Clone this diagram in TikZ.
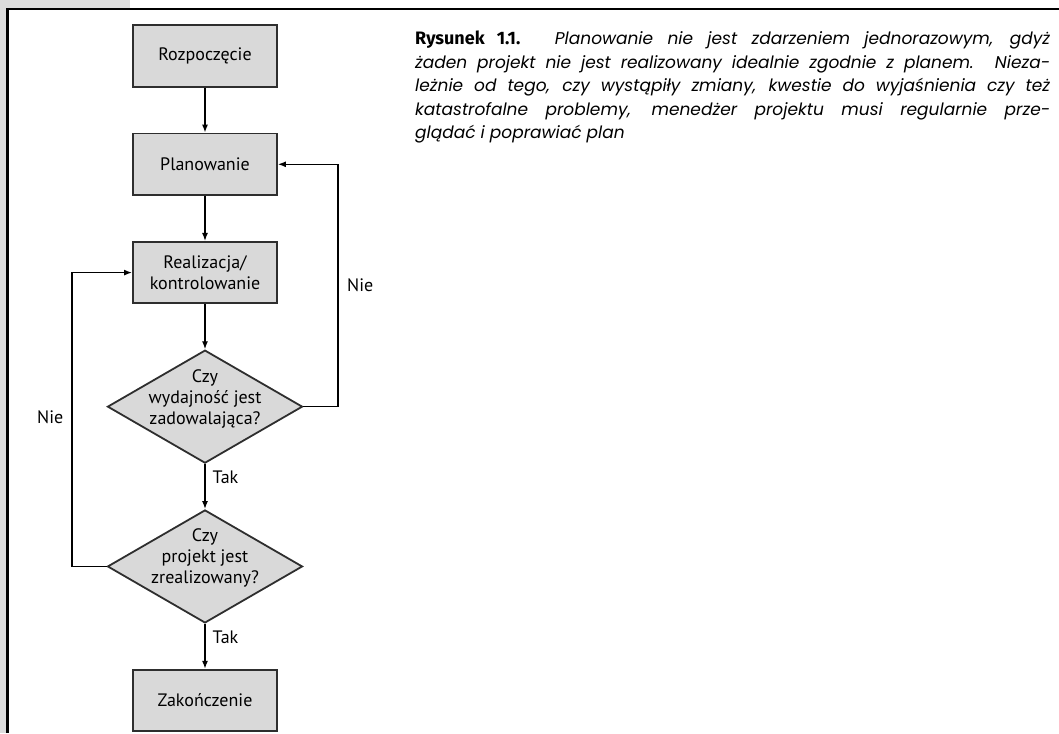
\documentclass[tikz,border=0pt]{standalone}
\usepackage{fontspec}
\setmainfont{PT Sans}
\newfontfamily\capfont{Poppins}
\newfontfamily\capboldfont{Fira Sans}
\usetikzlibrary{arrows.meta, shapes.geometric, positioning}
\definecolor{boxgray}{HTML}{D9D9D9}
\definecolor{boxline}{HTML}{2E2E2E}
\definecolor{tabgray}{HTML}{DCDCDC}
\tikzset{
  node distance=45pt,
  box/.style={rectangle, draw=boxline, fill=boxgray, line width=1.8pt, minimum width=144pt, minimum height=61.5pt, align=center, font=\fontsize{18}{21}\selectfont},
  decision/.style={diamond, draw=boxline, fill=boxgray, line width=1.8pt, minimum width=195pt, minimum height=113pt, inner xsep=-14pt, inner ysep=-28pt, text depth=20pt, align=center, font=\fontsize{18}{21}\selectfont},
  pto/.style={-{Latex[length=8pt,width=6pt]}, line width=1.4pt, black},
  lbl/.style={font=\fontsize{18}{21}\selectfont, inner sep=0pt},
  frame/.style={line width=2.7pt, black}
}

\begin{document}
\begin{tikzpicture}[x=1pt,y=-1pt]
  \tikzset{caption/.style={text width=635pt, align=justify, inner sep=0pt, font=\fontsize{17}{23.5}\selectfont\capfont\itshape}};
  \useasboundingbox (0,0) rectangle (1059,733);

  % tab and frame
  \fill[tabgray] (0,0) rectangle (130,8);
  \fill[tabgray] (0,0) rectangle (6,733);
  \draw[frame] (7.5,733) |- (1059,9);

  % flow
  \node[box] (start) at (205,56) {Rozpoczęcie};
  \node[box, below=of start] (plan) {Planowanie};
  \node[box, below=of plan] (real) {Realizacja/\\kontrolowanie};
  \node[decision, below=of real] (perf) {Czy\\wydajność jest\\zadowalająca?};
  \node[decision, below=of perf] (done) {Czy\\projekt jest\\zrealizowany?};
  \node[box, below=of done] (stop) {Zakończenie};

  \draw[pto] (start) -- (plan);
  \draw[pto] (plan) -- (real);
  \draw[pto] (real) -- (perf);
  \draw[pto] (perf) -- node[lbl, pos=0.3, right=7pt] (tak1) {Tak} (done);
  \draw[pto] (done) -- node[lbl, pos=0.3, right=7pt] (tak2) {Tak} (stop);

  % loops back
  \coordinate (rloop) at (338,0);
  \coordinate (lloop) at (72,0);
  \draw[pto] (perf.east) -| (rloop |- perf.east) |- (plan.east);
  \draw[pto] (done.west) -| (lloop |- done.west) |- (real.west);
  \node[lbl, anchor=west] (nie1) at (347,285) {Nie};
  \node[lbl, anchor=west] (nie2) at (37,417) {Nie};

  % caption
  \node[caption, anchor=north west] (cap) at (415,31) {{\capboldfont\upshape\bfseries\fontsize{18}{23.5}\selectfont Rysunek 1.1.} Planowanie nie jest zdarzeniem jednorazowym, gdyż\linebreak
    żaden projekt nie jest realizowany idealnie zgodnie z planem. Nieza-\linebreak
    leżnie od tego, czy wystąpiły zmiany, kwestie do wyjaśnienia czy też\linebreak
    katastrofalne problemy, menedżer projektu musi regularnie prze-\linebreak
    glądać i poprawiać plan};
\end{tikzpicture}
\end{document}
